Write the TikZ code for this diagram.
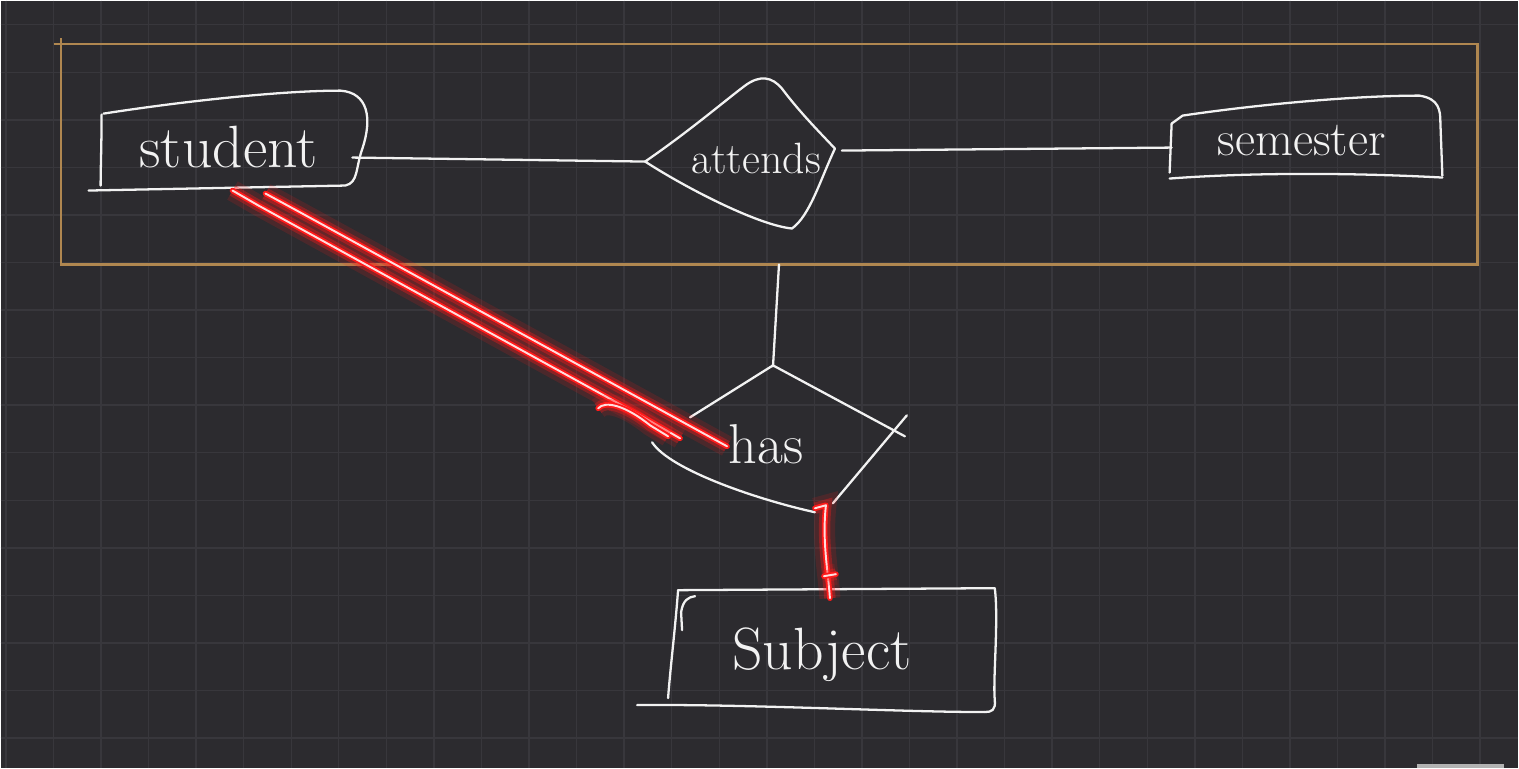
\documentclass[tikz,border=0pt]{standalone}
\usetikzlibrary{calc}
\definecolor{board}{HTML}{2C2B2F}
\definecolor{gridline}{HTML}{38373C}
\definecolor{framecol}{HTML}{B08750}
\definecolor{ink}{HTML}{F2F2F2}
\definecolor{neon}{HTML}{FF1A1A}

\begin{document}
\begin{tikzpicture}[x=0.02cm,y=-0.02cm,
        pen/.style={draw=ink,line width=1.3pt,line cap=round,line join=round},
        word/.style={text=ink,inner sep=0pt,font=\fontsize{#1}{#1}\selectfont},
        glow/.style={line cap=round,line join=round,
            preaction={draw=neon,opacity=0.15,line width=12pt},
            preaction={draw=neon,opacity=0.35,line width=6.5pt},
            draw=neon,line width=3.2pt,
            postaction={draw=white!85!neon,line width=1.1pt}}]

        \fill[board] (0,0) rectangle (1519,768);
        \foreach \i in {0,...,31}
            \draw[gridline,line width=0.8pt] ({5.2+47.6*\i},0) -- ({5.2+47.6*\i},768);
        \foreach \j in {0,...,15}
            \draw[gridline,line width=0.8pt] (0,{24+47.6*\j}) -- (1519,{24+47.6*\j});
        \fill[gray!60] (1418,764) rectangle (1505,768);

        % aggregation frame
        \draw[framecol,line width=1.3pt] (60,43) rectangle (1478,264);
        \draw[framecol,line width=1.3pt] (53,43) -- (60,43) -- (60,37);
        \coordinate (frame-s) at (779,264);

        % entities and relationships
        \node[word=34] (student) at (228,146) {student};
        \node[word=25] (attends) at (756,158) {attends};
        \node[word=28] (semester) at (1302,140) {semester};
        \node[word=32] (has) at (766,444) {has};
        \node[word=34] (subject) at (822,655) {Subject};

        \coordinate (student-e) at (352,157);
        \coordinate (student-s1) at (232,190);
        \coordinate (student-s2) at (265,193);
        \coordinate (attends-w) at (645,161);
        \coordinate (attends-e) at (842,150);
        \coordinate (semester-w) at (1172,147);
        \coordinate (has-n) at (773,366);
        \coordinate (has-w1) at (680,438);
        \coordinate (has-w2) at (727,446);
        \coordinate (has-s) at (815,508);
        \coordinate (subject-n) at (830,598);

        \draw[pen] (101,114) .. controls (101,140) and (100,170) .. (100,185);
        \draw[pen] (103,113) .. controls (180,101) and (280,90) .. (340,90)
            .. controls (368,92) and (372,118) .. (362,148)
            .. controls (355,168) and (358,182) .. (345,185) -- (88,190);

        \draw[pen] (attends-w) .. controls (690,130) and (725,100) .. (745,85)
            .. controls (760,74) and (772,76) .. (782,88)
            .. controls (800,112) and (820,132) .. (835,148)
            .. controls (820,180) and (810,215) .. (792,228)
            .. controls (760,225) and (690,190) .. (attends-w);

        \draw[pen] (1172,123) -- (1183,115) .. controls (1250,105) and (1350,95) .. (1420,95)
            .. controls (1440,98) and (1441,110) .. (1441,122) -- (1443,175);
        \draw[pen] (1172,123) -- (1170,172);
        \draw[pen] (1170,178) .. controls (1250,172) and (1350,172) .. (1443,177);

        \draw[pen] (773,365) -- (905,436);
        \draw[pen] (907,415) -- (833,503);
        \draw[pen] (773,365) -- (690,417);
        \draw[pen] (652,442) .. controls (670,470) and (760,500) .. (815,512);

        \draw[pen] (678,590) -- (995,588) .. controls (999,620) and (993,680) .. (995,700)
            .. controls (996,710) and (992,712) .. (985,712);
        \draw[pen] (637,705) .. controls (750,704) and (900,712) .. (985,712);
        \draw[pen] (678,590) .. controls (675,630) and (670,670) .. (668,698);
        \draw[pen] (682,630) -- (681,612) .. controls (683,600) and (688,597) .. (695,596);

        % connectors
        \draw[pen] (student-e) -- (attends-w);
        \draw[pen] (attends-e) -- (semester-w);
        \draw[pen] (frame-s) -- (has-n);

        % total participation
        \draw[glow] (student-s1) -- (258,205) -- (640,415) -- (has-w1);
        \draw[glow] (student-s2) -- (300,212) -- (has-w2);
        \draw[glow] (598,408) .. controls (605,400) and (625,405) .. (650,425) -- (668,436);
        \draw[glow] (has-s) -- (826,505) .. controls (822,540) and (828,570) .. (subject-n);
        \draw[glow] (824,576) -- (836,574);
    \end{tikzpicture}
\end{document}
